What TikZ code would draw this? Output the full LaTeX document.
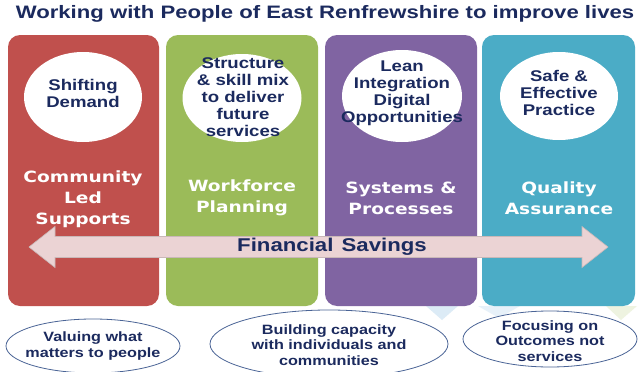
\documentclass[tikz,border=0pt]{standalone}
\usepackage{fontspec}
\setmainfont{Liberation Sans}
\newfontfamily\navyf[FakeStretch=1.2]{Liberation Sans}
\newfontfamily\titlef[FakeStretch=1.23]{Liberation Sans}
\newfontfamily\labf[FakeStretch=1.2]{DejaVu Sans}
\usetikzlibrary{shapes.geometric}
\definecolor{cred}{HTML}{C0504D}
\definecolor{cgreen}{HTML}{9BBB59}
\definecolor{cpurple}{HTML}{8064A2}
\definecolor{cteal}{HTML}{4BACC6}
\definecolor{navy}{HTML}{1B2A5E}
\definecolor{arrowfill}{HTML}{EBD3D4}
\definecolor{arrowline}{HTML}{C9B8B8}
\definecolor{ellline}{HTML}{4A6496}
\definecolor{paleblue}{HTML}{DCEBF6}
\definecolor{palegreen}{HTML}{EEF3E0}
\tikzset{
  pillar/.style={rounded corners=12pt, draw=none},
  bubble/.style={ellipse, fill=white, draw=none, inner sep=0pt},
  bubbletext/.style={font=\navyf\bfseries\fontsize{15.5}{17}\selectfont, text=navy, align=center, inner sep=0pt},
  pillartext/.style={font=\labf\bfseries\fontsize{15.5}{21}\selectfont, text=white, align=center, inner sep=0pt},
  outcome/.style={ellipse, draw=ellline, line width=0.8pt, fill=white, inner sep=0pt},
  outcometext/.style={font=\navyf\bfseries\fontsize{13.5}{15.5}\selectfont, text=navy, align=center, inner sep=0pt},
}
\begin{document}
\begin{tikzpicture}[x=1pt,y=-1pt]
\useasboundingbox (0,0) rectangle (643,372);
\clip (0,0) rectangle (643,372);
\fill[white] (0,0) rectangle (643,372);
% faint background decorations
\fill[paleblue] (426,306) -- (458,306) -- (442,320) -- cycle;
\fill[paleblue!70] (478,306) -- (520,306) -- (499,318) -- cycle;
\fill[palegreen] (606,306) -- (637,306) -- (621,320) -- cycle;
% title
\node[font=\titlef\bfseries\fontsize{18}{20}\selectfont, text=navy, inner sep=0pt] (title) at (325,14) {Working with People of East Renfrewshire to improve lives};
% pillars
\fill[pillar, cred] (8,35) rectangle (159,306);
\fill[pillar, cgreen] (166,35) rectangle (318,306);
\fill[pillar, cpurple] (325,35) rectangle (477,306);
\fill[pillar, cteal] (482,35) rectangle (635,306);
% white bubbles
\node[bubble, minimum width=118pt, minimum height=90pt] (b1) at (83,97) {};
\node[bubble, minimum width=119pt, minimum height=88pt] (b2) at (242,98) {};
\node[bubble, minimum width=120pt, minimum height=92pt] (b3) at (402,96) {};
\node[bubble, minimum width=118pt, minimum height=88pt] (b4) at (559,96) {};
\node[bubbletext] (t1) at (83,93) {Shifting\\Demand};
\node[bubbletext] (t2) at (243,97) {Structure\\\& skill mix\\to deliver\\future\\services};
\node[bubbletext] (t3) at (402,93) {Lean\\Integration\\Digital\\Opportunities};
\node[bubbletext] (t4) at (559,93) {Safe \&\\Effective\\Practice};
% pillar labels
\node[pillartext] (l1) at (83,199) {Community\\Led\\Supports};
\node[pillartext] (l2) at (242,198) {Workforce\\Planning};
\node[pillartext] (l3) at (401,198) {Systems \&\\Processes};
\node[pillartext] (l4) at (559,198) {Quality\\Assurance};
% double arrow
\coordinate (aL) at (29,247);
\coordinate (aR) at (608,247);
\filldraw[fill=arrowfill, draw=arrowline, line width=0.6pt]
  (aL) -- (55,226.5) -- (55,236.5) -- (582,236.5) -- (582,226.5) -- (aR)
  -- (582,267.5) -- (582,257.5) -- (55,257.5) -- (55,267.5) -- cycle;
\node[font=\navyf\bfseries\fontsize{18.5}{20}\selectfont, text=navy, inner sep=0pt] (fs) at (332,247) {Financial\hspace{2pt} Savings};
% outcome ellipses
\node[outcome, minimum width=174pt, minimum height=54pt] (o1) at (93,346) {};
\node[outcometext] (ot1) at (93,346) {Valuing what\\matters to people};
\node[outcome, minimum width=238pt, minimum height=68pt] (o2) at (329,344) {};
\node[outcometext] (ot2) at (329,345) {Building capacity\\with individuals and\\communities};
\node[outcome, minimum width=174pt, minimum height=56pt] (o3) at (550,339) {};
\node[outcometext] (ot3) at (550,341) {Focusing on\\Outcomes not\\services};
\end{tikzpicture}
\end{document}
